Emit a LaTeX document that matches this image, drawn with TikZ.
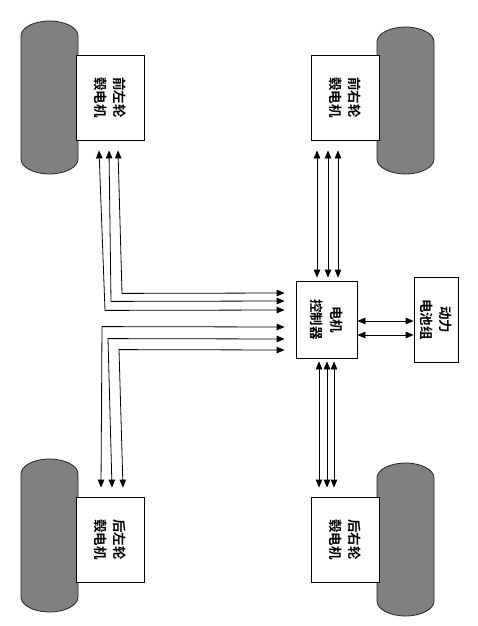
\documentclass[tikz,border=0pt]{standalone}
\usepackage{fontspec}
\newfontfamily\cjk{Noto Sans CJK SC}[BoldFont={Noto Sans CJK SC Bold}]
\usetikzlibrary{arrows.meta,calc}
\definecolor{tiregray}{RGB}{128,128,128}
\newcommand\mytire[4]{%
  \filldraw[tire] (#1,#2+15) arc[start angle=180,end angle=0,x radius=28.5pt,y radius=15pt]
    -- (#3,#4-15) arc[start angle=0,end angle=-180,x radius=28.5pt,y radius=15pt] -- cycle;}
\begin{document}
\begin{tikzpicture}[x=1pt,y=-1pt,
  tire/.style={draw=black!85,fill=tiregray,line width=0.8pt},
  motorbox/.style={draw=black,fill=white,line width=0.8pt,minimum width=68pt,minimum height=85pt,inner sep=0pt},
  ctrlbox/.style={draw=black,fill=white,line width=0.8pt,minimum width=61pt,minimum height=77pt,inner sep=0pt},
  battbox/.style={draw=black,fill=white,line width=0.8pt,minimum width=44pt,minimum height=85pt,inner sep=0pt},
  lbl/.style={rotate=-90,font=\cjk\bfseries\fontsize{13.5}{19.5}\selectfont,align=center,inner sep=0pt},
  dbl/.style={{Triangle[length=8pt,width=6.5pt]}-{Triangle[length=8pt,width=6.5pt]},line width=0.8pt,draw=black}
]
\useasboundingbox (0,0) rectangle (478,626);
% tires
\mytire{21}{21}{78}{174}
\mytire{21}{459}{78}{612}
\mytire{377}{27}{434}{174}
\mytire{377}{463}{434}{616}
% boxes
\node[motorbox] (FL) at (110,97.5) {};
\node[lbl] (FLt) at (FL) {前左轮\\毂电机};
\node[motorbox] (FR) at (345,97.5) {};
\node[lbl] (FRt) at (FR) {前右轮\\毂电机};
\node[motorbox] (RL) at (110,539.5) {};
\node[lbl] (RLt) at (RL) {后左轮\\毂电机};
\node[motorbox] (RR) at (345,539.5) {};
\node[lbl] (RRt) at (RR) {后右轮\\毂电机};
\node[ctrlbox] (C) at (326.5,319.5) {};
\node[lbl] (Ct) at (C) {电机\\控制器};
\node[battbox] (B) at (436,319.5) {};
\node[lbl] (Bt) at (B) {动力\\电池组};
% front-left links
\draw[dbl] ($(FL.south)+(-11,10)$) -- ($(FL.south)+(-5,170)$) -- ($(C.west)+(-11,-9.5)$);
\draw[dbl] ($(FL.south)+(-1,10)$) -- ($(FL.south)+(1,161)$) -- ($(C.west)+(-11,-18.5)$);
\draw[dbl] ($(FL.south)+(8,10)$) -- ($(FL.south)+(12,153)$) -- ($(C.west)+(-11,-26.5)$);
% rear-left links
\draw[dbl] ($(RL.north)+(-9,-9)$) -- ($(RL.north)+(-8,-170)$) -- ($(C.west)+(-11,7.5)$);
\draw[dbl] ($(RL.north)+(2,-9)$) -- ($(RL.north)+(-2,-158)$) -- ($(C.west)+(-11,19.5)$);
\draw[dbl] ($(RL.north)+(13,-9)$) -- ($(RL.north)+(9,-147)$) -- ($(C.west)+(-11,30.5)$);
% front-right links
\draw[dbl] ($(FR.south)+(-28,10)$) -- ($(C.north)+(-9.5,-3)$);
\draw[dbl] ($(FR.south)+(-17,10)$) -- ($(C.north)+(1.5,-3)$);
\draw[dbl] ($(FR.south)+(-7,10)$) -- ($(C.north)+(11.5,-3)$);
% rear-right links
\draw[dbl] ($(C.south)+(-7.5,3)$) -- ($(RR.north)+(-26,-9)$);
\draw[dbl] ($(C.south)+(0.5,3)$) -- ($(RR.north)+(-18,-9)$);
\draw[dbl] ($(C.south)+(7.5,3)$) -- ($(RR.north)+(-11,-9)$);
% battery links
\draw[dbl] ($(C.east)+(0,1.5)$) -- ($(B.west)+(0,1.5)$);
\draw[dbl] ($(C.east)+(0,15.5)$) -- ($(B.west)+(0,15.5)$);
\end{tikzpicture}
\end{document}
